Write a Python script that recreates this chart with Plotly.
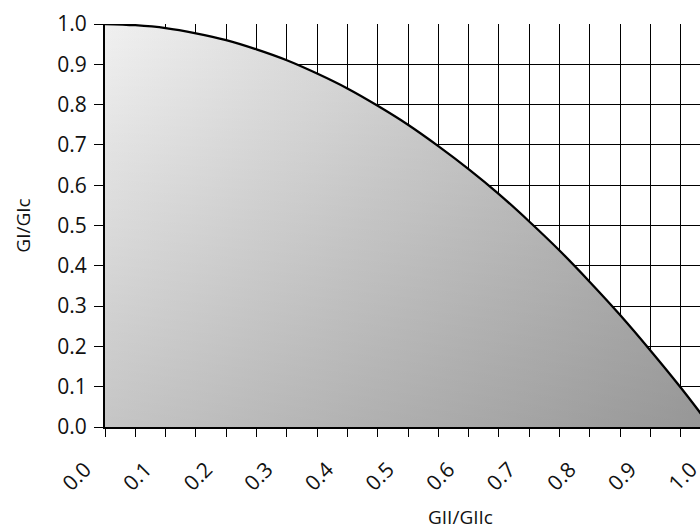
import plotly.graph_objects as go

# Data
gii_ratio = [0.0, 0.05, 0.1, 0.15, 0.2, 0.25, 0.3, 0.35, 0.4, 0.45, 0.5,
             0.55, 0.6, 0.65, 0.7, 0.75, 0.8, 0.85, 0.9, 0.95, 1.0]
gi_ratio = [1.0, 0.997, 0.99, 0.977, 0.96, 0.937, 0.91, 0.877, 0.84, 0.797, 0.75,
            0.697, 0.64, 0.578, 0.51, 0.438, 0.36, 0.278, 0.19, 0.098, 0.0]

x_tick_vals = [0.0, 0.1, 0.2, 0.3, 0.4, 0.5, 0.6, 0.7, 0.8, 0.9, 1.0]
x_tick_text = ["0.0", "0.1", "0.2", "0.3", "0.4", "0.5", "0.6", "0.7", "0.8", "0.9", "1.0"]
y_tick_vals = [0.0, 0.1, 0.2, 0.3, 0.4, 0.5, 0.6, 0.7, 0.8, 0.9, 1.0]
y_tick_text = ["0.0", "0.1", "0.2", "0.3", "0.4", "0.5", "0.6", "0.7", "0.8", "0.9", "1.0"]

FONT = "Open Sans"

fig = go.Figure()

# base fill: horizontal gradient light -> darker
fig.add_trace(go.Scatter(
    x=gii_ratio, y=gi_ratio, mode="lines",
    line=dict(width=0, shape="spline", color="rgba(0,0,0,0)"),
    fill="tozeroy",
    fillgradient=dict(type="horizontal", start=0, stop=1,
                      colorscale=[[0, "rgb(240,240,240)"], [1, "rgb(182,182,182)"]]),
    hoverinfo="skip", showlegend=False,
))
# overlay fill: vertical darkening toward the bottom
fig.add_trace(go.Scatter(
    x=gii_ratio, y=gi_ratio, mode="lines",
    line=dict(width=0, shape="spline", color="rgba(0,0,0,0)"),
    fill="tozeroy",
    fillgradient=dict(type="vertical", start=0, stop=1,
                      colorscale=[[0, "rgba(0,0,0,0.18)"], [1, "rgba(0,0,0,0)"]]),
    hoverinfo="skip", showlegend=False,
))
# curve
fig.add_trace(go.Scatter(
    x=gii_ratio, y=gi_ratio, mode="lines",
    line=dict(width=2.3, shape="spline", color="black"),
    showlegend=False,
))

fig.update_layout(
    width=720, height=530,
    margin=dict(l=105, r=9, t=21, b=103),
    paper_bgcolor="white", plot_bgcolor="white",
    font=dict(family=FONT, size=21, color="#111111"),
    xaxis=dict(
        range=[0, 1], tickvals=x_tick_vals, ticktext=x_tick_text,
        tickangle=-45, ticks="outside", ticklen=8, tickwidth=1, tickcolor="black",
        ticklabelstandoff=12, ticklabelshift=-20,
        showgrid=True, gridcolor="black", gridwidth=1,
        minor=dict(dtick=0.05, ticks="outside", ticklen=8, tickcolor="black",
                   showgrid=True, gridcolor="black", gridwidth=1),
        showline=True, linecolor="black", linewidth=2, zeroline=False,
        tickfont=dict(family=FONT, size=21, color="#111111"),
    ),
    yaxis=dict(
        range=[0, 1], tickvals=y_tick_vals, ticktext=y_tick_text,
        ticks="outside", ticklen=9, tickwidth=1, tickcolor="black",
        ticklabelstandoff=3,
        showgrid=True, gridcolor="black", gridwidth=1,
        showline=True, linecolor="black", linewidth=2, zeroline=False,
        tickfont=dict(family=FONT, size=21, color="#111111"),
        title=dict(text="GI/GIc", font=dict(family=FONT, size=19, color="#111111"), standoff=22),
    ),
    annotations=[dict(
        text="GII/GIIc", xref="paper", yref="paper", x=0.586, y=-0.224,
        xanchor="center", yanchor="middle", showarrow=False,
        font=dict(family=FONT, size=19, color="#111111"),
    )],
)

fig.write_html("out.html", config={"displayModeBar": False},
               post_script="document.body.style.margin='0';")
